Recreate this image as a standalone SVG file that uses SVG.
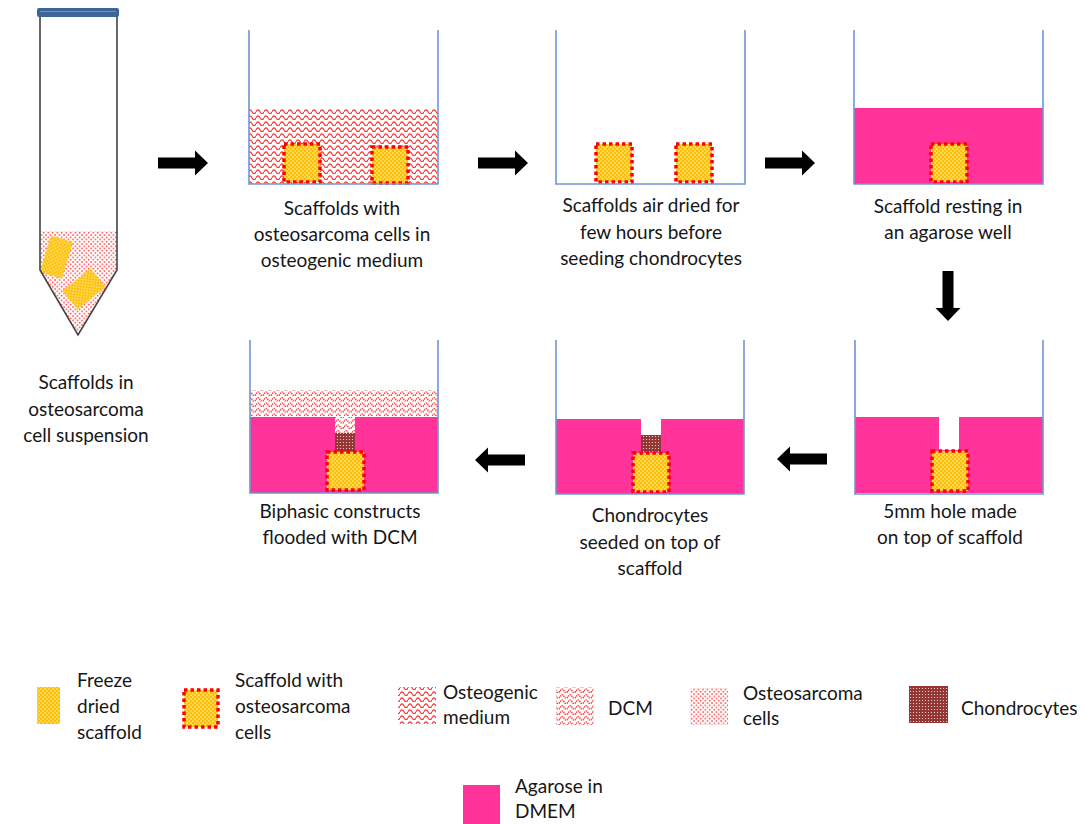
<svg xmlns="http://www.w3.org/2000/svg" width="1085" height="824" viewBox="0 0 1085 824">
  <defs>
    <!-- freeze dried scaffold: yellow with white speckles -->
    <pattern id="scaf" width="4" height="4" patternUnits="userSpaceOnUse">
      <rect width="4" height="4" fill="#FFC000"/>
      <circle cx="1" cy="1" r="0.7" fill="#fff"/>
      <circle cx="3" cy="3" r="0.7" fill="#fff"/>
    </pattern>
    <!-- osteosarcoma cells: sparse red dots -->
    <pattern id="cells" width="4.5" height="4.5" patternUnits="userSpaceOnUse">
      <rect width="4.5" height="4.5" fill="#fff"/>
      <circle cx="1" cy="1" r="0.8" fill="#ff1a1a"/>
      <circle cx="3.25" cy="3.25" r="0.8" fill="#ff1a1a"/>
    </pattern>
    <!-- osteogenic medium: red waves -->
    <pattern id="osteo" width="8" height="6" patternUnits="userSpaceOnUse">
      <rect width="8" height="6" fill="#fff"/>
      <path d="M0 3.8 C1.3 1.2 2.7 1.2 4 3.8 S6.7 6.4 8 3.8" fill="none" stroke="#ff3030" stroke-width="1.1"/>
    </pattern>
    <!-- DCM: dotted red waves -->
    <pattern id="dcm" width="8" height="5.5" patternUnits="userSpaceOnUse">
      <rect width="8" height="5.5" fill="#fff"/>
      <path d="M0 3.4 C1.3 1 2.7 1 4 3.4 S6.7 5.8 8 3.4" fill="none" stroke="#ff2020" stroke-width="1.4" stroke-dasharray="1.4 0.9"/>
    </pattern>
    <!-- chondrocytes: dark red with white dots -->
    <pattern id="chon" width="3" height="3" patternUnits="userSpaceOnUse">
      <rect width="3" height="3" fill="#943634"/>
      <circle cx="1.5" cy="1.5" r="0.6" fill="#f4dede"/>
    </pattern>
    <path id="arr" d="M0 -5.5 H37 V-12.5 L50 0 L37 12.5 V5.5 H0 Z"/>
  </defs>
  <style>
    text { font-family: Lato, "Open Sans", "Liberation Sans", sans-serif; font-size: 19px; fill: #161616; }
    .c { text-anchor: middle; }
    .well { fill: none; stroke: #6f95d2; stroke-width: 1.6; }
    .pink { fill: #FF3399; }
    .sc { fill: url(#scaf); }
    .scr { fill: url(#scaf); stroke: #ff0000; stroke-width: 3.5; stroke-dasharray: 3.5 3; }
    .arrow { fill: #000; }
  </style>

  <!-- centrifuge tube with scaffolds in cell suspension -->
  <g id="tube">
    <polygon points="40,231 117,231 117,270 78,335 40,270" fill="url(#cells)"/>
    <rect x="45" y="238" width="23" height="38" fill="url(#scaf)" transform="rotate(17 56 257)"/>
    <rect x="66" y="277" width="36" height="24" fill="url(#scaf)" transform="rotate(-38 84 289)"/>
    <path d="M40 16 V270 L78 335 L117 270 V16" fill="none" stroke="#444" stroke-width="1.6"/>
    <rect x="37" y="8" width="82" height="9" rx="2" fill="#3e6598"/>
    <line x1="40" y1="11.5" x2="116" y2="11.5" stroke="#6e93c6" stroke-width="1.2"/>
    <text class="c" x="86" y="389">Scaffolds in</text>
    <text class="c" x="86" y="416">osteosarcoma</text>
    <text class="c" x="86" y="442">cell suspension</text>
  </g>

  <!-- step 1: scaffolds in osteogenic medium -->
  <g id="step1">
    <rect x="249" y="108" width="189" height="76" fill="url(#osteo)"/>
    <rect class="scr" x="284" y="144" width="36" height="38"/>
    <rect class="scr" x="372" y="147" width="36" height="36"/>
    <path class="well" d="M249 30 V184 H438 V30"/>
    <text class="c" x="342" y="215">Scaffolds with</text>
    <text class="c" x="342" y="241">osteosarcoma cells in</text>
    <text class="c" x="342" y="267">osteogenic medium</text>
  </g>

  <!-- step 2: scaffolds air dried -->
  <g id="step2">
    <rect class="scr" x="596" y="144" width="36" height="38"/>
    <rect class="scr" x="676" y="144" width="36" height="38"/>
    <path class="well" d="M556 30 V184 H745 V30"/>
    <text class="c" x="651" y="212">Scaffolds air dried for</text>
    <text class="c" x="651" y="239">few hours before</text>
    <text class="c" x="651" y="265">seeding chondrocytes</text>
  </g>

  <!-- step 3: scaffold in agarose well -->
  <g id="step3">
    <rect class="pink" x="854" y="108" width="189" height="76"/>
    <rect class="scr" x="931" y="144" width="36" height="38"/>
    <path class="well" d="M854 30 V184 H1043 V30"/>
    <text class="c" x="948" y="213">Scaffold resting in</text>
    <text class="c" x="948" y="239">an agarose well</text>
  </g>

  <!-- step 4: hole made above scaffold -->
  <g id="step4">
    <path class="pink" d="M855 417 H939 V450 H959 V417 H1043 V493 H855 Z"/>
    <rect class="scr" x="932" y="451" width="36" height="40"/>
    <path class="well" d="M855 340 V494 H1043 V340"/>
    <text class="c" x="950" y="518">5mm hole made</text>
    <text class="c" x="950" y="544">on top of scaffold</text>
  </g>

  <!-- step 5: chondrocytes seeded -->
  <g id="step5">
    <path class="pink" d="M556 419 H641 V452 H661 V419 H744 V494 H556 Z"/>
    <rect x="641" y="435" width="20" height="17" fill="url(#chon)"/>
    <rect class="scr" x="633" y="453" width="36" height="39"/>
    <path class="well" d="M556 340 V494 H744 V340"/>
    <text class="c" x="650" y="522">Chondrocytes</text>
    <text class="c" x="650" y="549">seeded on top of</text>
    <text class="c" x="650" y="575">scaffold</text>
  </g>

  <!-- step 6: flooded with DCM -->
  <g id="step6">
    <rect x="250" y="390" width="188" height="26" fill="url(#dcm)"/>
    <path class="pink" d="M250 417 H335 V451 H355 V417 H438 V493 H250 Z"/>
    <rect x="335" y="417" width="20" height="16" fill="url(#dcm)"/>
    <rect x="335" y="433" width="20" height="18" fill="url(#chon)"/>
    <rect class="scr" x="327" y="452" width="37" height="38"/>
    <path class="well" d="M250 340 V493 H438 V340"/>
    <text class="c" x="340" y="518">Biphasic constructs</text>
    <text class="c" x="340" y="544">flooded with DCM</text>
  </g>

  <!-- process arrows -->
  <g id="connectors" class="arrow">
    <use href="#arr" transform="translate(158 163)"/>
    <use href="#arr" transform="translate(478 163)"/>
    <use href="#arr" transform="translate(765 163)"/>
    <use href="#arr" transform="translate(948 271) rotate(90)"/>
    <use href="#arr" transform="translate(827 459) rotate(180)"/>
    <use href="#arr" transform="translate(525 460) rotate(180)"/>
  </g>

  <!-- legend -->
  <g id="legend-freeze">
    <rect class="sc" x="37" y="687" width="23" height="37"/>
    <text x="77" y="687">Freeze</text>
    <text x="77" y="713">dried</text>
    <text x="77" y="739">scaffold</text>
  </g>
  <g id="legend-scaffold-cells">
    <rect class="scr" x="184" y="690" width="34" height="37"/>
    <text x="235" y="687">Scaffold with</text>
    <text x="235" y="713">osteosarcoma</text>
    <text x="235" y="739">cells</text>
  </g>
  <g id="legend-osteogenic">
    <rect x="398" y="687" width="38" height="37" fill="url(#osteo)"/>
    <text x="443" y="699">Osteogenic</text>
    <text x="443" y="724">medium</text>
  </g>
  <g id="legend-dcm">
    <rect x="556" y="687" width="38" height="38" fill="url(#dcm)"/>
    <text x="608" y="715">DCM</text>
  </g>
  <g id="legend-cells">
    <rect x="690" y="688" width="38" height="37" fill="url(#cells)"/>
    <text x="743" y="700">Osteosarcoma</text>
    <text x="743" y="725">cells</text>
  </g>
  <g id="legend-chondrocytes">
    <rect x="909" y="686" width="39" height="37" fill="url(#chon)"/>
    <text x="961" y="715">Chondrocytes</text>
  </g>
  <g id="legend-agarose">
    <rect class="pink" x="463" y="785" width="37" height="39"/>
    <text x="515" y="793">Agarose in</text>
    <text x="515" y="818">DMEM</text>
  </g>
</svg>
